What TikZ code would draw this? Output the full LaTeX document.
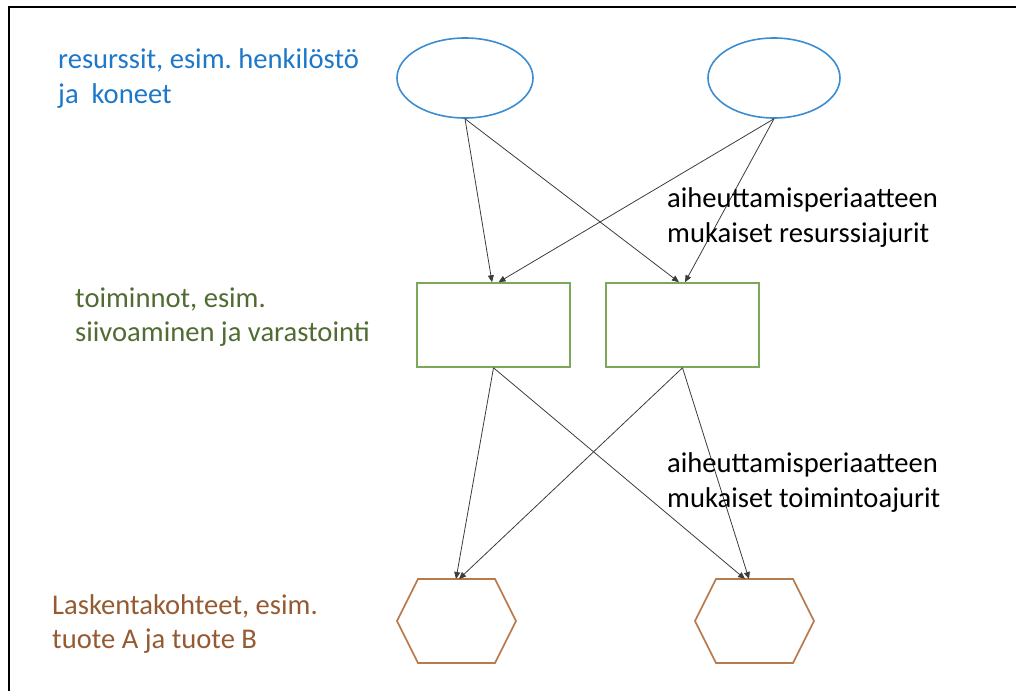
\documentclass[tikz,border=0pt]{standalone}
\usepackage{fontspec}
\setmainfont{Carlito}
\usetikzlibrary{arrows.meta,shapes.geometric}
\definecolor{resblue}{RGB}{30,120,200}
\definecolor{ellblue}{RGB}{60,140,210}
\definecolor{actgreen}{RGB}{80,108,50}
\definecolor{rectgreen}{RGB}{125,168,90}
\definecolor{objbrown}{RGB}{150,90,50}
\definecolor{hexbrown}{RGB}{185,122,75}
\definecolor{linegray}{RGB}{60,60,60}
\tikzset{
  lbl/.style={anchor=base west,inner sep=0pt,font=\fontsize{28.7}{34}\selectfont},
  resell/.style={draw=ellblue,line width=1.6pt,ellipse,minimum width=136bp,minimum height=80bp,inner sep=0pt},
  actbox/.style={draw=rectgreen,line width=1.6pt,rectangle,minimum width=153bp,minimum height=84bp,inner sep=0pt},
  hexline/.style={draw=hexbrown,line width=1.6pt,line join=miter},
  conn/.style={draw=linegray,line width=0.8pt,-{Triangle[length=7pt,width=6pt]}},
  frame/.style={draw=black,line width=2.2pt,line cap=butt}
}
\begin{document}
\frenchspacing
\begin{tikzpicture}[x=1bp,y=-1bp]
\useasboundingbox (0,0) rectangle (1016,691);
\draw[frame] (8,7) -- (1016,7);
\draw[frame] (9,6) -- (9,691);

% resources
\node[resell] (e1) at (465,78) {};
\node[resell,minimum width=132bp] (e2) at (774,78) {};
% activities
\node[actbox] (r1) at (493.5,325) {};
\node[actbox] (r2) at (682.5,325) {};
% cost objects (hexagons)
\draw[hexline] (397,621) -- (418,579) -- (495,579) -- (516,621) -- (495,663) -- (418,663) -- cycle;
\draw[hexline] (695,621) -- (716,579) -- (793,579) -- (814,621) -- (793,663) -- (716,663) -- cycle;
\coordinate (h1) at (456.5,579);
\coordinate (h2) at (754.5,579);

% connectors
\draw[conn] (e1.south) -- ([xshift=-1.5bp]r1.north);
\draw[conn] (e1.south) -- ([xshift=-3.5bp]r2.north);
\draw[conn] (e2.south) -- ([xshift=5bp]r1.north);
\draw[conn] (e2.south) -- ([xshift=2.5bp]r2.north);
\draw[conn] (r1.south) -- ([xshift=-0.5bp]h1);
\draw[conn] (r1.south) -- ([xshift=-9.5bp]h2);
\draw[conn] (r2.south) -- ([xshift=2.5bp]h1);
\draw[conn] (r2.south) -- ([xshift=-5.5bp]h2);

% labels
\node[lbl,text=resblue] (t1a) at (58,69) {resurssit, esim. henkilöstö};
\node[lbl,text=resblue] (t1b) at (58,104) {ja\ \ koneet};
\node[lbl,text=actgreen] (t2a) at (75,307) {toiminnot, esim.};
\node[lbl,text=actgreen] (t2b) at (75,341) {siivoaminen ja varastointi};
\node[lbl,text=objbrown] (t3a) at (52,614) {Laskentakohteet, esim.};
\node[lbl,text=objbrown] (t3b) at (52,648) {tuote A ja tuote B};
\node[lbl] (d1a) at (667,207) {aiheuttamisperiaatteen};
\node[lbl] (d1b) at (667,242) {mukaiset resurssiajurit};
\node[lbl] (d2a) at (667,472) {aiheuttamisperiaatteen};
\node[lbl] (d2b) at (667,507) {mukaiset toimintoajurit};
\end{tikzpicture}
\end{document}
